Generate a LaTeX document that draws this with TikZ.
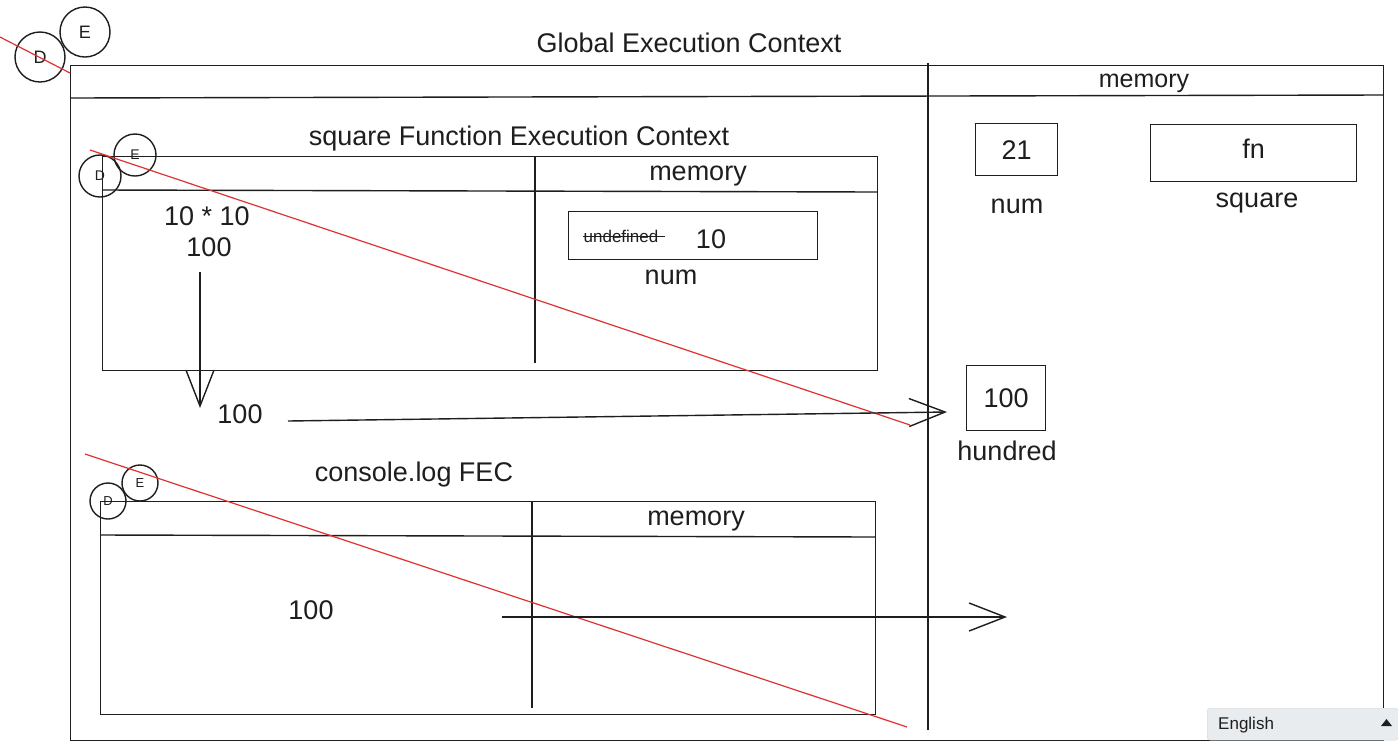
\documentclass[tikz,border=0pt]{standalone}
\usepackage{fontspec}
\setmainfont{Liberation Sans}
\usetikzlibrary{arrows.meta}
\definecolor{ink}{HTML}{1E1E1E}
\definecolor{redl}{HTML}{E03131}
\definecolor{ddbg}{HTML}{E9ECEF}
\begin{document}
\begin{tikzpicture}[x=1pt,y=-1pt,
  ln/.style={draw=ink,line width=1.4pt},
  rl/.style={draw=redl,line width=1.2pt},
  txt/.style={text=ink,inner sep=0pt,font=\fontsize{27}{29}\selectfont},
  smt/.style={text=ink,inner sep=0pt,font=\fontsize{16}{18}\selectfont},
  circ/.style={ln,circle,inner sep=0pt},
  boxn/.style={ln,rectangle,inner sep=0pt,anchor=north west},
  arr/.style={ln,-{Straight Barb[length=36pt,width=28pt,line width=1.4pt]}}]
\useasboundingbox (0,0) rectangle (1398,748);
\fill[white] (0,0) rectangle (1398,748);

% global execution context
\node[txt] (gtitle) at (689,43) {Global Execution Context};
\node[boxn,minimum width=1313pt,minimum height=675pt] (gbox) at (70,65) {};
\draw[ln] (70,98) -- (1383,95);
\draw[ln] (928,63) -- (928,730);
\node[txt,font=\fontsize{25}{27}\selectfont] (gmem) at (1144,83) {memory};
\node[circ,minimum size=50pt] (gD) at (40,57) {};
\node[smt,font=\fontsize{18}{20}\selectfont] at (gD) {D};
\node[circ,minimum size=50pt] (gE) at (85,32) {};
\node[smt,font=\fontsize{18}{20}\selectfont] at (gE) {E};
\draw[rl] (0,37) -- (70,73);

% global memory
\node[boxn,minimum width=82pt,minimum height=52pt] (b21) at (975,123) {};
\node[txt] at (b21.center) {21};
\node[txt] (lnum) at (1017,206) {num};
\node[boxn,minimum width=206pt,minimum height=57pt] (bfn) at (1150,124) {};
\node[txt] at ([yshift=4pt]bfn.center) {fn};
\node[txt] (lsq) at (1257,203) {square};
\node[boxn,minimum width=79pt,minimum height=65pt] (b100) at (966,365) {};
\node[txt] at (b100.center) {100};
\node[txt] (lhund) at (1007,451) {hundred};

% square FEC
\node[txt] (stitle) at (519,139) {square Function Execution Context};
\node[boxn,minimum width=775pt,minimum height=214pt] (sbox) at (102,156) {};
\draw[ln] (102,190) -- (877,192);
\draw[ln] (535,156) -- (535,363);
\node[txt] (smem) at (698,176) {memory};
\node[circ,minimum size=42pt] (sD) at (100,176) {};
\node[smt,font=\fontsize{14}{16}\selectfont] at (sD) {D};
\node[circ,minimum size=42pt] (sE) at (135,155) {};
\node[smt,font=\fontsize{14}{16}\selectfont] at (sE) {E};
\draw[rl] (90,150) -- (910,425);
\node[txt] (calc) at (207,216) {10 * 10};
\node[txt] (res) at (209,247) {100};
\node[boxn,minimum width=249pt,minimum height=48pt] (bnum) at (568,211) {};
\node[smt,font=\fontsize{17}{19}\selectfont] (undef) at (621,236) {undefined};
\draw[ink,line width=1pt] (undef.west) -- ([xshift=6pt]undef.east);
\node[txt] at (711,239) {10};
\node[txt] (snum) at (671,277) {num};

% return arrow
\coordinate (dtop) at (200,272);
\coordinate (dbot) at (200,408);
\draw[arr] (dtop) -- (dbot);
\node[txt] (ret) at (240,414) {100};
\coordinate (rs) at (288,421);
\coordinate (re) at (947,412);
\draw[arr] (rs) -- (re);

% console.log FEC
\node[txt] (ctitle) at (414,475) {console.log FEC};
\node[boxn,minimum width=775pt,minimum height=213pt] (cbox) at (100,501) {};
\draw[ln] (100,535) -- (875,537);
\draw[ln] (532,501) -- (532,708);
\node[txt] (cmem) at (696,521) {memory};
\node[circ,minimum size=36pt] (cD) at (108,501) {};
\node[smt,font=\fontsize{13}{15}\selectfont] at (cD) {D};
\node[circ,minimum size=36pt] (cE) at (140,483) {};
\node[smt,font=\fontsize{13}{15}\selectfont] at (cE) {E};
\draw[rl] (85,454) -- (907,727);
\node[txt] (cval) at (311,610) {100};
\coordinate (cs) at (502,617);
\coordinate (ce) at (1007,617);
\draw[arr] (cs) -- (ce);

% language dropdown
\node[draw=ddbg!80!gray,fill=ddbg,rounded corners=3pt,anchor=north west,minimum width=191pt,minimum height=32pt,inner sep=0pt] (dd) at (1207,708) {};
\node[smt,anchor=west,font=\fontsize{17}{19}\selectfont] (ddt) at (1218,725) {English};
\fill[ink] (1381,726) -- (1392,726) -- (1386.5,719) -- cycle;
\end{tikzpicture}
\end{document}
